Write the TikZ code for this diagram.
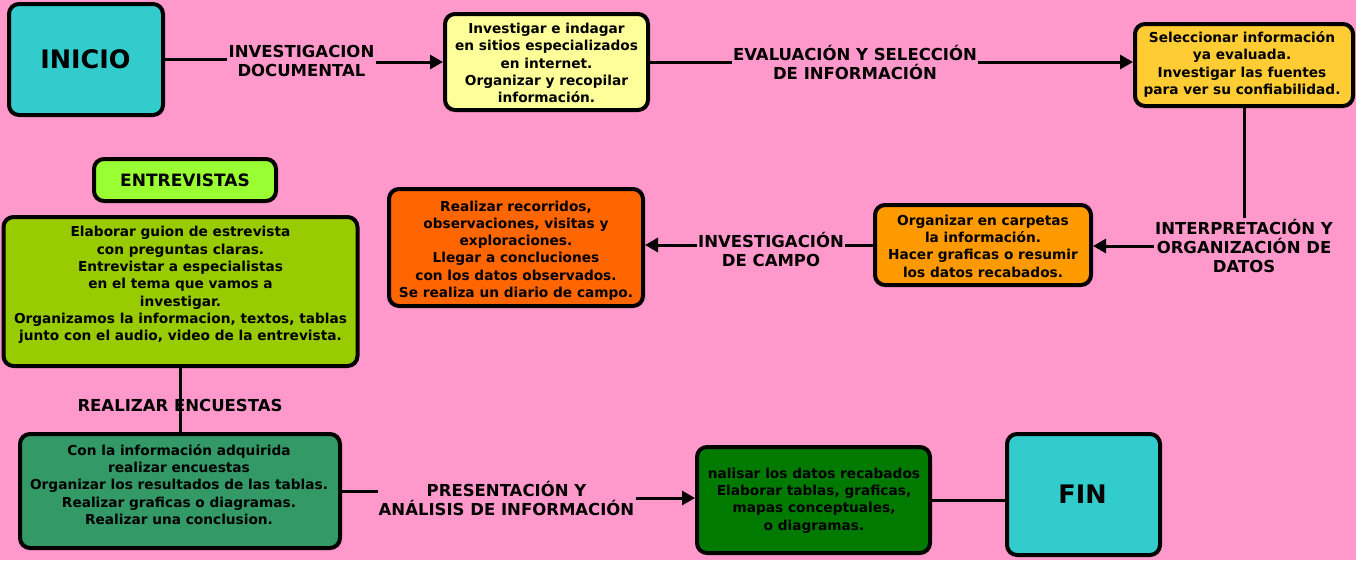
\documentclass[tikz,border=0pt]{standalone}
\usepackage{fontspec}
\setmainfont{DejaVu Sans}
\usetikzlibrary{arrows.meta}
\definecolor{bg}{HTML}{FF99CC}
\definecolor{teal}{HTML}{33CCCC}
\definecolor{lyellow}{HTML}{FFFF99}
\definecolor{gold}{HTML}{FFCC33}
\definecolor{orng}{HTML}{FF9900}
\definecolor{dorng}{HTML}{FF6600}
\definecolor{lgreen}{HTML}{99FF33}
\definecolor{lime}{HTML}{99CC00}
\definecolor{sea}{HTML}{339966}
\definecolor{dgreen}{HTML}{007A00}
\begin{document}
\begin{tikzpicture}[x=1pt,y=-1pt,
  box/.style={draw=black, line width=4pt, rounded corners=10pt, inner sep=0pt},
  txt/.style={align=center, font=\bfseries\fontsize{13.7}{17.3}\selectfont, inner sep=0pt},
  lab/.style={align=center, font=\bfseries\fontsize{16.5}{19}\selectfont, inner sep=1pt},
  big/.style={font=\bfseries\fontsize{25.5}{30}\selectfont, inner sep=0pt},
  conn/.style={line width=3pt},
  arr/.style={conn, -{Triangle[length=13pt,width=14pt]}}
]
\fill[bg] (0,0) rectangle (1356,560);
\useasboundingbox (0,0) rectangle (1356,560);

% boxes
\node[box, fill=teal, minimum width=154pt, minimum height=111pt] (inicio) at (86,59.5) {};
\node[big] (inicio-t) at (85.5,59) {INICIO};

\node[box, fill=lyellow, minimum width=203pt, minimum height=96pt] (yellow) at (546.5,62) {};
\node[txt] (yellow-t) at (546.5,63) {Investigar e indagar\\en sitios especializados\\en internet.\\Organizar y recopilar\\información.};

\node[box, fill=gold, minimum width=218pt, minimum height=82pt] (gold) at (1244,65) {};
\node[txt] (gold-t) at (1242,64.5) {Seleccionar información\\ya evaluada.\\Investigar las fuentes\\para ver su confiabilidad.};

\node[box, fill=orng, minimum width=216pt, minimum height=80pt] (orange) at (983,245) {};
\node[txt] (orange-t) at (983,246) {Organizar en carpetas\\la información.\\Hacer graficas o resumir\\los datos recabados.};

\node[box, fill=dorng, minimum width=254pt, minimum height=117pt] (dorange) at (516,247.5) {};
\node[txt] (dorange-t) at (516,250.5) {Realizar recorridos,\\observaciones, visitas y\\exploraciones.\\Llegar a concluciones\\con los datos observados.\\Se realiza un diario de campo.};

\node[box, fill=lgreen, minimum width=182pt, minimum height=42pt] (entrev) at (185,180) {};
\node[font=\bfseries\fontsize{17}{20}\selectfont, inner sep=0pt] (entrev-t) at (185,180) {ENTREVISTAS};

\node[box, fill=lime, minimum width=354pt, minimum height=149pt] (lime) at (180.5,291.5) {};
\node[txt] (lime-t) at (180.5,285) {Elaborar guion de estrevista\\con preguntas claras.\\Entrevistar a especialistas\\en el tema que vamos a\\investigar.\\Organizamos la informacion, textos, tablas\\junto con el audio, video de la entrevista.};

\node[box, fill=sea, minimum width=320pt, minimum height=114pt] (sea) at (180,491) {};
\node[txt] (sea-t) at (179,484.5) {Con la información adquirida\\realizar encuestas\\Organizar los resultados de las tablas.\\Realizar graficas o diagramas.\\Realizar una conclusion.};

\node[box, fill=dgreen, minimum width=233pt, minimum height=106pt] (dgreen) at (813.5,500) {};
\node[txt] (dgreen-t) at (814,500.5) {nalisar los datos recabados\\Elaborar tablas, graficas,\\mapas conceptuales,\\o diagramas.};

\node[box, fill=teal, minimum width=153pt, minimum height=121pt] (fin) at (1083.5,494.5) {};
\node[big] (fin-t) at (1082.5,494.5) {FIN};

% labels
\node[lab] (lab1) at (301.5,61) {INVESTIGACION\\DOCUMENTAL};
\node[lab] (lab2) at (855,62) {EVALUACIÓN Y SELECCIÓN\\DE INFORMACIÓN};
\node[lab] (lab3) at (1244,246) {INTERPRETACIÓN Y\\ORGANIZACIÓN DE\\DATOS};
\node[lab] (lab4) at (771,249) {INVESTIGACIÓN\\DE CAMPO};
\node[lab] (lab5) at (180,405) {REALIZAR ENCUESTAS};
\node[lab] (lab6) at (506.5,498) {PRESENTACIÓN Y\\ANÁLISIS DE INFORMACIÓN};

% connectors
\draw[conn] (inicio.east) -- (inicio.east -| lab1.west);
\draw[arr] (lab1.east |- yellow.west) -- (yellow.west);
\draw[conn] (yellow.east) -- (yellow.east -| lab2.west);
\draw[arr] (lab2.east |- yellow.east) -- (gold.west |- yellow.east);
\draw[conn] (gold.south) -- (gold.south |- lab3.north);
\draw[arr] (lab3.west) -- (orange.east |- lab3.west);
\draw[conn] (orange.west) -- (orange.west -| lab4.east);
\draw[arr] (lab4.west |- orange.west) -- (dorange.east |- orange.west);
\draw[conn] (lime.south) -- (lime.south |- sea.north);
\draw[conn] (sea.east) -- (sea.east -| lab6.west);
\draw[arr] (lab6.east) -- (dgreen.west |- lab6.east);
\draw[conn] (dgreen.east) -- (fin.west |- dgreen.east);
\end{tikzpicture}
\end{document}
